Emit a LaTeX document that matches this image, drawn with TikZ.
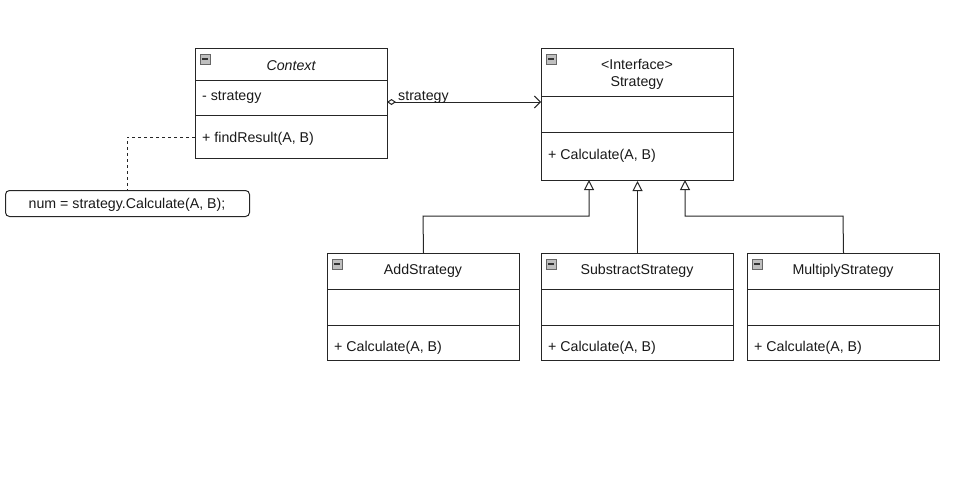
\documentclass[tikz,border=0pt]{standalone}
\usepackage{fontspec}
\setmainfont{Liberation Sans}
\usetikzlibrary{arrows.meta}
\begin{document}
\begin{tikzpicture}[x=1pt,y=-1pt,
  line/.style={draw=black!85, line width=1pt},
  classbox/.style={line, rectangle, anchor=north west, inner sep=0pt, minimum width=192pt},
  txt/.style={font=\fontsize{14.2}{17}\selectfont, inner sep=0pt, text=black!90},
  ltxt/.style={txt, anchor=west},
  ctxt/.style={txt, anchor=center, align=center},
  inherit/.style={line, -{Triangle[open, length=10pt, width=10pt]}},
  icon/.style={draw=black!60, fill=black!25, line width=0.7pt, minimum size=10pt, inner sep=0pt, anchor=north west}
]
\useasboundingbox (0,0) rectangle (969,488);

% Context
\node[classbox, minimum height=110pt] (ctx) at (195,48) {};
\draw[line] (195,80) -- (387,80);
\draw[line] (195,115) -- (387,115);
\node[icon] (ctxicon) at (200,54) {};
\draw[black!80, line width=1.2pt] (202,59) -- (208,59);
\node[ctxt, font=\fontsize{14.2}{17}\selectfont\itshape] (ctxname) at (291,66) {Context};
\node[ltxt] (ctxattr) at (202,97.5) {- strategy};
\node[ltxt] (ctxop) at (202,138.5) {+ findResult(A, B)};

% Strategy interface
\node[classbox, minimum height=132pt] (strat) at (541,48) {};
\draw[line] (541,96) -- (733,96);
\draw[line] (541,132) -- (733,132);
\node[icon] (straticon) at (546,54) {};
\draw[black!80, line width=1.2pt] (548,59) -- (554,59);
\node[ctxt] (stratname) at (637,74.5) {<Interface>\\Strategy};
\node[ltxt] (stratop) at (548,155.5) {+ Calculate(A, B)};

% Association
\coordinate (assocA) at (387,102);
\coordinate (assocB) at (541,102);
\draw[line, {Diamond[open, length=9pt, width=6pt]}-{Straight Barb[length=6pt, width=12pt]}] (assocA) -- (assocB);
\node[ltxt] (assoclbl) at (398,97.5) {strategy};

% Note
\node[line, rounded corners=4pt, minimum width=244pt, minimum height=26pt, anchor=north west, inner sep=0pt] (note) at (5,190) {};
\node[ctxt] (notetxt) at (127,204.5) {num = strategy.Calculate(A, B);};
\coordinate (notetop) at (127,190);
\draw[line, dash pattern=on 3pt off 3pt] (195,137) -- (127,137) -- (notetop);

% Concrete strategies
\foreach \nm/\x/\lbl in {add/327/AddStrategy, sub/541/SubstractStrategy, mul/747/MultiplyStrategy}{
  \node[classbox, minimum height=107pt] (\nm) at (\x,253) {};
  \draw[line] (\x,289) -- ++(192,0);
  \draw[line] (\x,325) -- ++(192,0);
  \node[icon] (\nm icon) at (\x+5,259) {};
  \draw[black!80, line width=1.2pt] (\x+7,264) -- (\x+13,264);
  \node[ctxt] (\nm name) at (\x+96,270.5) {\lbl};
  \node[ltxt] (\nm op) at (\x+7,347.5) {+ Calculate(A, B)};
}

% Inheritance
\draw[inherit, line join=miter] (add.north) -- (423,216) -- (589,216) -- (589,180);
\draw[inherit] (sub.north) -- (strat.south);
\draw[inherit, line join=miter] (mul.north) -- (843,216) -- (685,216) -- (685,180);
\end{tikzpicture}
\end{document}
